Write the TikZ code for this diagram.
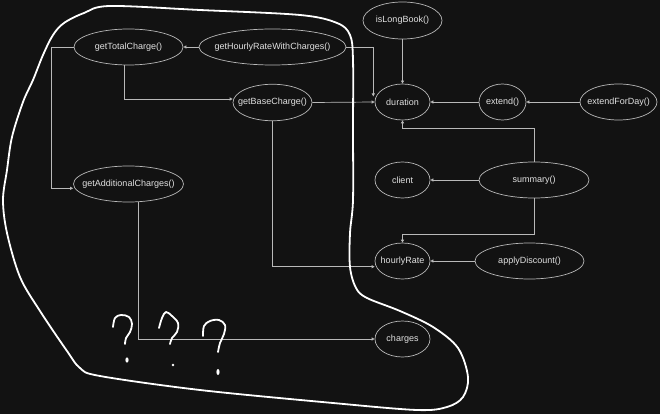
\documentclass[tikz,border=0pt]{standalone}
\usepackage{fontspec}
\setmainfont{Liberation Sans}
\usetikzlibrary{shapes.geometric,arrows.meta}
\definecolor{bg}{RGB}{18,18,18}
\definecolor{linec}{RGB}{185,185,185}
\definecolor{txtc}{RGB}{225,225,225}
\tikzset{
  el/.style={ellipse, draw=linec, line width=0.7pt, inner sep=0pt},
  lab/.style={text=txtc, inner sep=0pt, font=\fontsize{9}{11}\selectfont},
  arr/.style={draw=linec, line width=0.7pt, -{Triangle[length=3pt,width=3pt]}},
  hand/.style={draw=white, line width=1.8pt, line cap=round, line join=round},
  dotq/.style={fill=white}
}
\begin{document}
\begin{tikzpicture}[x=1pt,y=-1pt]
\fill[bg] (0,0) rectangle (660,414);
\useasboundingbox (0,0) rectangle (660,414);

% nodes
\node[el, minimum width=109pt, minimum height=36pt, label={[lab]center:getTotalCharge()}] (gtc) at (128.5,47) {};
\node[el, minimum width=147pt, minimum height=36pt, label={[lab]center:getHourlyRateWithCharges()}] (ghr) at (272.5,47) {};
\node[el, minimum width=79pt, minimum height=36.5pt, label={[lab]center:getBaseCharge()}] (gbc) at (272.5,102.5) {};
\node[el, minimum width=110pt, minimum height=36pt, label={[lab]center:getAdditionalCharges()}] (gac) at (128.5,184) {};
\node[el, minimum width=79pt, minimum height=37pt, label={[lab]center:isLongBook()}] (ilb) at (402.5,20.5) {};
\node[el, minimum width=55pt, minimum height=36pt, label={[lab]center:duration}] (dur) at (402.5,102) {};
\node[el, minimum width=47pt, minimum height=36pt, label={[lab]center:extend()}] (ext) at (502.5,102) {};
\node[el, minimum width=77pt, minimum height=36pt, label={[lab]center:extendForDay()}] (efd) at (618.5,102) {};
\node[el, minimum width=55pt, minimum height=36pt, label={[lab]center:client}] (cl) at (402.5,180) {};
\node[el, minimum width=110pt, minimum height=36pt, label={[lab]center:summary()}] (sum) at (534,180) {};
\node[el, minimum width=55pt, minimum height=36pt, label={[lab]center:hourlyRate}] (hr) at (402.5,261) {};
\node[el, minimum width=109pt, minimum height=36pt, label={[lab]center:applyDiscount()}] (ad) at (529.5,261) {};
\node[el, minimum width=55pt, minimum height=36pt, label={[lab]center:charges}] (ch) at (402.5,339) {};

\coordinate (durtl) at (373.3,96.5);

% connectors
\draw[arr] (ghr.west) -- (gtc.east);
\draw[arr] (ghr.east) -| (durtl);
\draw[arr] ([xshift=-4.2pt]gtc.south) |- ([yshift=3.5pt]gbc.west);
\draw[arr] (gtc.west) -- ++(-22.5,0) |- ([yshift=-4.3pt]gac.west);
\draw[arr] (gbc.east) -- (dur.west);
\draw[arr] (gbc.south) |- ([yshift=-5.7pt]hr.west);
\draw[arr] ([xshift=9.8pt]gac.south) |- (ch.west);
\draw[arr] (ilb.south) -- (dur.north);
\draw[arr] (ext.west) -- (dur.east);
\draw[arr] (efd.west) -- (ext.east);
\draw[arr] (sum.north) -- ++(0,-33) -| (dur.south);
\draw[arr] (sum.west) -- (cl.east);
\draw[arr] (sum.south) -- ++(0,36) -| (hr.north);
\draw[arr] (ad.west) -- (hr.east);

% hand-drawn loop
\draw[hand] plot[smooth cycle, tension=0.55] coordinates {
 (110,6) (200,10) (300,15) (337,23) (350,35) (353,60) (353,130) (353,200)
 (350,233) (350,267) (356,288) (367,298) (400,311) (433,327) (458,348)
 (468,377) (463,397) (447,407) (417,410) (333,403) (200,390) (100,376)
 (80,368) (67,351) (40,311) (20,277) (7,233) (3,200) (7,170) (12,137)
 (23,102) (33,80) (43,55) (53,35) (64,23) (84,13)};

% question marks
\draw[hand] plot[smooth, tension=0.6] coordinates {(113,327) (115,318) (121,315) (129,317) (132,324) (130,332) (126,338) (125,344)};
\fill[dotq] (127,360) ellipse [x radius=1.6pt, y radius=2.6pt];
\draw[hand] plot[smooth, tension=0.6] coordinates {(159,328) (162,318) (166,312) (172,316) (178,323) (177,332) (172,338) (170,344)};
\fill[dotq] (173,365) circle [radius=1.3pt];
\draw[hand] plot[smooth, tension=0.6] coordinates {(203,336) (204,326) (210,321) (219,320) (225,325) (224,334) (220,343) (218,352)};
\fill[dotq] (218,372) ellipse [x radius=1.6pt, y radius=3pt];
\end{tikzpicture}
\end{document}
